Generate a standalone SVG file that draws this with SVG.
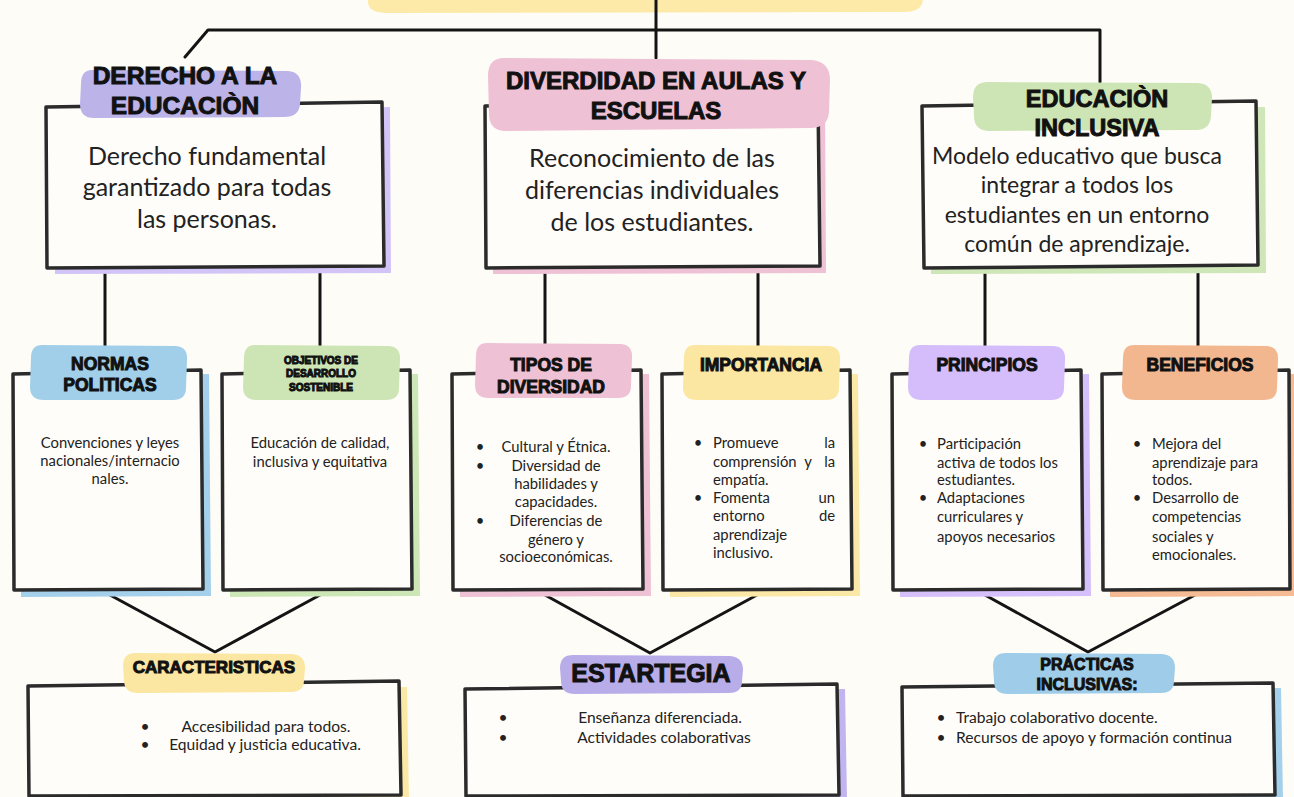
<svg xmlns="http://www.w3.org/2000/svg" width="1294" height="797" viewBox="0 0 1294 797">
<style>
.bg{fill:#fdfcf7}
.box{fill:#fffdf9;stroke:#2b2b2b;stroke-width:3.5;stroke-linejoin:round}
.conn{fill:none;stroke:#141414;stroke-width:3;stroke-linecap:round;stroke-linejoin:round}
.t{font-family:"Liberation Sans",Arial,sans-serif;font-weight:bold;fill:#111;stroke:#111;stroke-width:1;text-anchor:middle}
.b{font-family:Lato,"Open Sans",sans-serif;fill:#222;text-anchor:middle}
.l{text-anchor:start}
.e{text-anchor:end}
.big{font-size:25px}
.sm{font-size:14.8px}
.md{font-size:15.6px}
</style>
<rect class="bg" x="0" y="0" width="1294" height="797"/>
<!-- top partial title blob -->
<path d="M368,-10 L925,-10 L922,4 Q918,12 905,12 L385,13 Q368,12 368,2 Z" fill="#fdeaa8"/>

<g id="connectors">
<path class="conn" d="M656,0 L656,58"/>
<path class="conn" d="M185,57 L208,30 L1100,30 L1100,82"/>
<path class="conn" d="M105,272 L105,346"/>
<path class="conn" d="M320,272 L320,346"/>
<path class="conn" d="M545,272 L545,344"/>
<path class="conn" d="M758,272 L758,346"/>
<path class="conn" d="M985,272 L985,346"/>
<path class="conn" d="M1198,272 L1198,346"/>
<path class="conn" d="M110,595 L215,652 L320,595"/>
<path class="conn" d="M545,595 L650,653 L757,595"/>
<path class="conn" d="M985,595 L1088,652 L1195,595"/>
</g>

<g id="derecho">
<path d="M54,112 L390,107 L391,273 L55,274 Z" fill="#d3c4f7"/>
<path class="box" d="M46,107 L382,102 L384,266 L47,268 Z"/>
<path d="M92,70 L288,71 Q302,72 301,88 L300,104 Q299,117 284,117 L94,118 Q80,118 80,104 L81,84 Q81,70 92,70 Z" fill="#bcb4e9"/>
<text class="t" font-size="24.5" x="185" y="84">DERECHO A LA</text>
<text class="t" font-size="24.5" x="185" y="114">EDUCACIÒN</text>
<text class="b big" x="207" y="165">Derecho fundamental</text>
<text class="b big" x="207" y="196">garantizado para todas</text>
<text class="b big" x="207" y="228">las personas.</text>
</g>

<g id="diversidad">
<path d="M492,112 L825,106 L826,273 L493,274 Z" fill="#efc1d4"/>
<path class="box" d="M485,106 L818,100 L820,266 L486,268 Z"/>
<path d="M504,58 L812,60 Q830,62 830,80 L829,112 Q828,128 810,128 L506,131 Q489,131 489,114 L488,76 Q488,58 504,58 Z" fill="#efc1d4"/>
<text class="t" font-size="24" x="656" y="89">DIVERDIDAD EN AULAS Y</text>
<text class="t" font-size="24" x="656" y="119">ESCUELAS</text>
<text class="b big" x="652" y="167">Reconocimiento de las</text>
<text class="b big" x="652" y="199">diferencias individuales</text>
<text class="b big" x="652" y="231">de los estudiantes.</text>
</g>

<g id="inclusiva">
<path d="M930,112 L1265,107 L1266,273 L931,274 Z" fill="#cfe6b8"/>
<path class="box" d="M922,106 L1256,101 L1258,265 L924,268 Z"/>
<path d="M988,82 L1198,83 Q1212,84 1212,98 L1211,116 Q1210,130 1196,130 L990,131 Q974,131 974,116 L973,97 Q973,82 988,82 Z" fill="#cde5b5"/>
<text class="t" font-size="23.5" x="1097" y="107">EDUCACIÒN</text>
<text class="t" font-size="23.5" x="1097" y="136">INCLUSIVA</text>
<text class="b" font-size="23" x="1077" y="164">Modelo educativo que busca</text>
<text class="b" font-size="23" x="1077" y="193">integrar a todos los</text>
<text class="b" font-size="23" x="1077" y="223">estudiantes en un entorno</text>
<text class="b" font-size="23" x="1077" y="252">común de aprendizaje.</text>
</g>

<g id="normas">
<path d="M20,378 L209,374 L211,596 L21,597 Z" fill="#a4d0ec"/>
<path class="box" d="M13,374 L201,370 L203,589 L14,590 Z"/>
<path d="M42,345 L176,346 Q188,347 187,360 L186,388 Q186,400 173,400 L44,400 Q30,400 30,387 L31,358 Q31,345 42,345 Z" fill="#a1cfea"/>
<text class="t" font-size="17.5" x="110" y="370">NORMAS</text>
<text class="t" font-size="17.5" x="110" y="391">POLITICAS</text>
<text class="b sm" x="110" y="448">Convenciones y leyes</text>
<text class="b sm" x="110" y="466">nacionales/internacio</text>
<text class="b sm" x="110" y="484">nales.</text>
</g>

<g id="objetivos">
<path d="M229,378 L418,374 L420,596 L230,597 Z" fill="#cde6b5"/>
<path class="box" d="M222,374 L410,370 L412,589 L223,590 Z"/>
<path d="M255,345 L389,346 Q401,347 400,360 L399,388 Q399,400 386,400 L257,400 Q243,400 243,387 L244,358 Q244,345 255,345 Z" fill="#cde5b5"/>
<text class="t" font-size="10" stroke-width="0.6" x="321" y="364">OBJETIVOS DE</text>
<text class="t" font-size="10" stroke-width="0.6" x="321" y="377">DESARROLLO</text>
<text class="t" font-size="10" stroke-width="0.6" x="321" y="391">SOSTENIBLE</text>
<text class="b sm" x="320" y="448">Educación de calidad,</text>
<text class="b sm" x="320" y="467">inclusiva y equitativa</text>
</g>

<g id="tipos">
<path d="M459,378 L649,374 L651,596 L460,597 Z" fill="#efc1d4"/>
<path class="box" d="M452,374 L641,370 L643,589 L453,590 Z"/>
<path d="M487,343 L621,344 Q633,345 632,358 L631,386 Q631,398 618,398 L489,398 Q475,398 475,385 L476,356 Q476,343 487,343 Z" fill="#efc1d4"/>
<text class="t" font-size="17.5" x="551" y="371">TIPOS DE</text>
<text class="t" font-size="17.5" x="551" y="393">DIVERSIDAD</text>
<text class="b sm" x="480" y="452">•</text>
<text class="b sm" x="480" y="471">•</text>
<text class="b sm" x="480" y="526">•</text>
<text class="b sm" x="556" y="452">Cultural y Étnica.</text>
<text class="b sm" x="556" y="471">Diversidad de</text>
<text class="b sm" x="556" y="489">habilidades y</text>
<text class="b sm" x="556" y="507">capacidades.</text>
<text class="b sm" x="556" y="526">Diferencias de</text>
<text class="b sm" x="556" y="545">género y</text>
<text class="b sm" x="556" y="562">socioeconómicas.</text>
</g>

<g id="importancia">
<path d="M669,378 L858,374 L860,596 L670,597 Z" fill="#fce8a6"/>
<path class="box" d="M662,374 L850,370 L852,589 L663,590 Z"/>
<path d="M695,345 L829,346 Q841,347 840,360 L839,388 Q839,400 826,400 L697,400 Q683,400 683,387 L684,358 Q684,345 695,345 Z" fill="#fbe7a1"/>
<text class="t" font-size="17.5" x="761" y="371">IMPORTANCIA</text>
<text class="b sm" x="698" y="448">•</text>
<text class="b sm" x="698" y="503">•</text>
<text class="b sm l" x="713" y="448">Promueve</text>
<text class="b sm e" x="835" y="448">la</text>
<text class="b sm l" x="713" y="467">comprensión</text>
<text class="b sm" x="808" y="467">y</text>
<text class="b sm e" x="835" y="467">la</text>
<text class="b sm l" x="713" y="485">empatía.</text>
<text class="b sm l" x="713" y="503">Fomenta</text>
<text class="b sm e" x="835" y="503">un</text>
<text class="b sm l" x="713" y="521">entorno</text>
<text class="b sm e" x="835" y="521">de</text>
<text class="b sm l" x="713" y="540">aprendizaje</text>
<text class="b sm l" x="713" y="558">inclusivo.</text>
</g>

<g id="principios">
<path d="M899,378 L1089,374 L1091,596 L900,597 Z" fill="#d6c0fb"/>
<path class="box" d="M892,374 L1081,370 L1083,589 L893,590 Z"/>
<path d="M920,345 L1054,346 Q1066,347 1065,360 L1064,388 Q1064,400 1051,400 L922,400 Q908,400 908,387 L909,358 Q909,345 920,345 Z" fill="#d4bdfa"/>
<text class="t" font-size="17.5" x="987" y="371">PRINCIPIOS</text>
<text class="b sm" x="923" y="449">•</text>
<text class="b sm" x="923" y="503">•</text>
<text class="b sm l" x="937" y="449">Participación</text>
<text class="b sm l" x="937" y="468">activa de todos los</text>
<text class="b sm l" x="937" y="485">estudiantes.</text>
<text class="b sm l" x="937" y="503">Adaptaciones</text>
<text class="b sm l" x="937" y="522">curriculares y</text>
<text class="b sm l" x="937" y="542">apoyos necesarios</text>
</g>

<g id="beneficios">
<path d="M1109,378 L1297,374 L1297,596 L1110,597 Z" fill="#f4bb94"/>
<path class="box" d="M1102,374 L1289,370 L1290,589 L1103,590 Z"/>
<path d="M1134,345 L1267,346 Q1279,347 1278,360 L1277,388 Q1277,400 1264,400 L1136,400 Q1122,400 1122,387 L1123,358 Q1123,345 1134,345 Z" fill="#f3b78f"/>
<text class="t" font-size="17.5" x="1200" y="371">BENEFICIOS</text>
<text class="b sm" x="1137" y="449">•</text>
<text class="b sm" x="1137" y="503">•</text>
<text class="b sm l" x="1152" y="449">Mejora del</text>
<text class="b sm l" x="1152" y="468">aprendizaje para</text>
<text class="b sm l" x="1152" y="485">todos.</text>
<text class="b sm l" x="1152" y="503">Desarrollo de</text>
<text class="b sm l" x="1152" y="522">competencias</text>
<text class="b sm l" x="1152" y="542">sociales y</text>
<text class="b sm l" x="1152" y="560">emocionales.</text>
</g>

<g id="caracteristicas">
<path d="M35,692 L407,687 L409,800 L36,800 Z" fill="#fce8a6"/>
<path class="box" d="M28,686 L399,681 L401,795 L29,796 Z"/>
<path d="M136,653 L292,654 Q305,655 305,668 L304,680 Q304,692 291,692 L138,693 Q124,693 124,680 L123,666 Q123,653 136,653 Z" fill="#fbe7a1"/>
<text class="t" font-size="17" x="214" y="673">CARACTERISTICAS</text>
<text class="b md" x="145" y="732">•</text>
<text class="b md" x="145" y="750">•</text>
<text class="b md" x="266" y="732">Accesibilidad para todos.</text>
<text class="b md" x="265" y="750">Equidad y justicia educativa.</text>
</g>

<g id="estartegia">
<path d="M472,694 L845,689 L847,800 L473,800 Z" fill="#c2b4ef"/>
<path class="box" d="M465,689 L837,684 L839,795 L466,796 Z"/>
<path d="M573,655 L730,656 Q743,657 743,670 L742,681 Q742,693 729,693 L575,694 Q561,694 561,681 L560,668 Q560,655 573,655 Z" fill="#b8ade9"/>
<text class="t" font-size="25" x="651" y="682">ESTARTEGIA</text>
<text class="b md" x="503" y="723">•</text>
<text class="b md" x="503" y="743">•</text>
<text class="b md" x="660" y="723">Enseñanza diferenciada.</text>
<text class="b md" x="664" y="743">Actividades colaborativas</text>
</g>

<g id="practicas">
<path d="M909,692 L1281,688 L1283,800 L910,800 Z" fill="#a4d0ec"/>
<path class="box" d="M902,687 L1273,683 L1275,795 L903,796 Z"/>
<path d="M1006,653 L1162,654 Q1175,655 1175,668 L1174,681 Q1174,693 1161,693 L1008,694 Q994,694 994,681 L993,666 Q993,653 1006,653 Z" fill="#9fcde9"/>
<text class="t" font-size="16" x="1087" y="670">PRÁCTICAS</text>
<text class="t" font-size="16" x="1087" y="690">INCLUSIVAS:</text>
<text class="b md" x="941" y="723">•</text>
<text class="b md" x="941" y="743">•</text>
<text class="b md l" x="956" y="723">Trabajo colaborativo docente.</text>
<text class="b md l" x="956" y="743">Recursos de apoyo y formación continua</text>
</g>
</svg>
